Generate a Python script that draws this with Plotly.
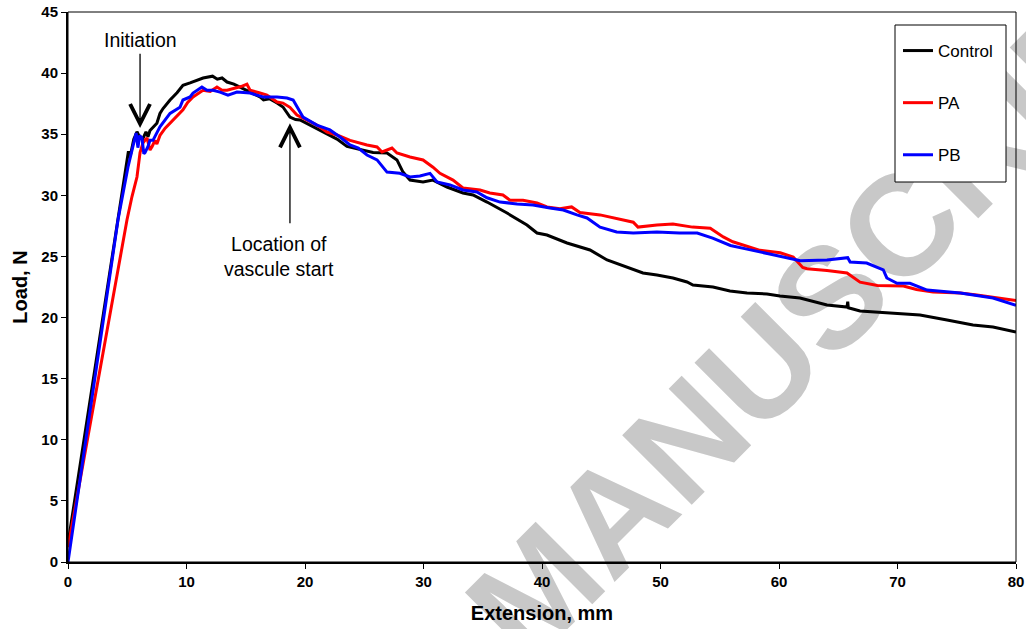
import plotly.graph_objects as go

# ---- Data ----
control_x = [0, 5.1, 5.25, 5.55, 5.82, 6.08, 6.3, 6.58, 6.75, 6.92, 7.5, 7.76, 8.02, 8.61, 9.2, 9.7,
             10.3, 10.8, 11.4, 12.2, 12.6, 13.0, 13.42, 14.0, 14.5, 15.36, 16.2, 16.5, 17.0, 17.64,
             18.14, 18.73, 19.2, 19.58, 20.42, 21.52, 22.7, 23.54, 24.5, 25.74, 26.92, 27.76, 28.27,
             28.86, 29.96, 30.8, 31.98, 33.33, 34.18, 35.36, 37.05, 38.73, 39.58, 40.42, 42.11, 44.05,
             45.49, 47.43, 48.52, 49.7, 51.05, 52.24, 52.74, 54.43, 55.86, 57.3, 58.99, 60.08, 61.77,
             64.05, 65.74, 65.8, 65.85, 66.84, 69.62, 71.9, 74.18, 76.37, 78.06, 80.0]
control_y = [1.5, 33.6, 33.2, 34.6, 35.2, 34.7, 34.6, 35.2, 34.8, 35.3, 35.9, 36.7, 37.1, 37.8, 38.4, 39.0,
             39.2, 39.4, 39.6, 39.75, 39.5, 39.6, 39.27, 39.1, 38.85, 38.45, 38.05, 37.8, 37.9, 37.55,
             37.23, 36.4, 36.2, 36.16, 35.75, 35.18, 34.6, 34.0, 33.8, 33.5, 33.46, 32.9, 31.9,
             31.25, 31.1, 31.25, 30.68, 30.19, 30.03, 29.45, 28.55, 27.57, 26.92, 26.75, 26.1, 25.53,
             24.71, 24.05, 23.65, 23.48, 23.24, 22.91, 22.66, 22.5, 22.17, 22.0, 21.93, 21.76, 21.6,
             21.03, 20.86, 21.3, 20.8, 20.54, 20.37, 20.21, 19.8, 19.39, 19.23, 18.82]

pa_x = [0, 4.98, 5.4, 5.82, 6.08, 6.33, 6.67, 6.92, 7.1, 7.34, 7.5, 7.76, 8.2, 8.61, 9.2, 9.7, 10.1,
        10.55, 11.39, 12.0, 12.57, 13.0, 13.42, 14.26, 14.6, 15.1, 15.36, 16.2, 16.79, 17.64, 18.14,
        18.73, 19.32, 20.17, 21.0, 21.86, 22.7, 23.8, 25.23, 26.08, 26.5, 27.34, 27.76, 28.86, 29.96,
        30.8, 31.39, 32.49, 33.33, 34.77, 35.6, 36.7, 37.3, 38.4, 39.58, 40.42, 41.5, 42.5, 43.2,
        44.9, 46.6, 47.7, 48.1, 49.7, 51.05, 52.7, 54.2, 55.3, 56.1, 57.3, 58.4, 60.1, 61.2, 62.0,
        62.36, 64.05, 65.74, 66.84, 68.3, 70.5, 71.6, 73.0, 75.3, 76.7, 78.06, 80.0]
pa_y = [1.2, 28.0, 29.9, 31.5, 33.5, 34.3, 34.7, 33.7, 34.0, 34.5, 34.2, 34.9, 35.5, 35.9, 36.5, 37.0, 37.6,
        38.05, 38.6, 38.5, 38.86, 38.6, 38.6, 38.78, 38.9, 39.1, 38.6, 38.37, 38.2, 37.64, 37.55,
        37.2, 36.57, 36.16, 35.75, 35.18, 34.94, 34.5, 34.12, 33.96, 33.55, 33.87, 33.46, 33.14, 32.89,
        32.3, 31.8, 31.25, 30.6, 30.44, 30.19, 30.03, 29.6, 29.6, 29.37, 29.05, 28.9, 29.05, 28.6,
        28.4, 28.0, 27.8, 27.4, 27.57, 27.65, 27.4, 27.3, 26.6, 26.2, 25.85, 25.5, 25.3, 24.95, 24.1,
        24.0, 23.85, 23.65, 22.9, 22.63, 22.58, 22.3, 22.1, 22.0, 21.85, 21.65, 21.4]

pb_x = [0, 4.22, 5.06, 5.4, 5.65, 5.75, 5.9, 6.05, 6.24, 6.4, 6.5, 6.75, 6.92, 7.17, 7.76, 8.35, 8.61,
        9.45, 9.7, 10.3, 10.55, 11.3, 11.73, 12.24, 12.83, 13.5, 14.26, 15.36, 16.46, 17.64, 18.48,
        19.0, 19.32, 19.83, 21.0, 22.1, 22.95, 23.8, 24.5, 25.23, 26.08, 26.92, 28.0, 28.86, 29.7,
        30.55, 31.14, 32.24, 33.33, 34.5, 35.36, 36.46, 37.9, 39.24, 40.67, 41.8, 42.95, 43.8, 44.9,
        46.3, 47.7, 49.7, 51.6, 53.1, 54.4, 55.9, 57.3, 59.0, 60.1, 61.8, 64.05, 65.8, 66.0, 67.4,
        68.8, 69.1, 69.96, 71.05, 72.5, 75.3, 78.06, 80.0]
pb_y = [0, 28.0, 32.3, 33.7, 34.9, 35.1, 33.9, 34.9, 34.7, 33.4, 33.5, 34.0, 34.5, 34.5, 35.6, 36.4, 36.7,
        37.2, 37.8, 38.05, 38.37, 38.86, 38.6, 38.6, 38.45, 38.2, 38.45, 38.37, 38.05, 38.05, 37.96,
        37.8, 37.23, 36.4, 35.75, 35.35, 34.77, 34.12, 33.87, 33.3, 32.9, 31.9, 31.8, 31.5, 31.58,
        31.8, 31.1, 30.85, 30.44, 30.27, 29.8, 29.45, 29.3, 29.2, 28.96, 28.8, 28.4, 28.15, 27.4,
        27.0, 26.92, 27.0, 26.92, 26.92, 26.5, 25.9, 25.6, 25.25, 25.0, 24.65, 24.7, 24.9, 24.55, 24.46,
        23.9, 23.24, 22.8, 22.8, 22.25, 22.0, 21.6, 21.0]

series_names = ["Control", "PA", "PB"]
series_colors = ["#000000", "#ff0000", "#0000ff"]
x_ticks = [0, 10, 20, 30, 40, 50, 60, 70, 80]
y_ticks = [0, 5, 10, 15, 20, 25, 30, 35, 40, 45]

FONT = "Liberation Sans, Arial, sans-serif"

fig = go.Figure()
for name, xs, ys, col in zip(series_names, [control_x, pa_x, pb_x], [control_y, pa_y, pb_y], series_colors):
    fig.add_trace(go.Scatter(x=xs, y=ys, mode="lines", name=name, legendgroup=name,
                             line=dict(color=col, width=3)))

fig.update_layout(
    width=1026, height=629,
    margin=dict(l=68, r=10, t=12, b=67),
    paper_bgcolor="white", plot_bgcolor="white",
    font=dict(family=FONT, color="black"),
    showlegend=True,
    legend=dict(x=0.8755, y=0.9618, xanchor="left", yanchor="top",
                bgcolor="rgba(0,0,0,0)", borderwidth=0,
                font=dict(size=17, family=FONT), traceorder="grouped", tracegroupgap=27),
)
fig.update_xaxes(range=[0, 80], tickvals=x_ticks, ticks="outside", ticklen=5, tickwidth=1,
                 tickcolor="black", showline=True, linecolor="black", linewidth=2,
                 showgrid=False, zeroline=False, automargin=False, ticklabeloverflow="allow",
                 tickfont=dict(size=15, family=FONT, weight="bold"),
                 title=dict(text="<b>Extension, mm</b>", font=dict(size=20), standoff=17))
fig.update_yaxes(range=[0, 45], tickvals=y_ticks, ticks="outside", ticklen=5, tickwidth=1,
                 tickcolor="black", showline=True, linecolor="black", linewidth=2,
                 showgrid=False, zeroline=False, automargin=False, ticklabeloverflow="allow",
                 tickfont=dict(size=15, family=FONT, weight="bold"),
                 title=dict(text="<b>Load, N</b>", font=dict(size=20), standoff=8))

# plot-area frame
fig.add_shape(type="rect", xref="paper", yref="paper", x0=0, y0=0, x1=1, y1=1,
              line=dict(color="black", width=1), layer="above")

# legend frame (white box, covers the watermark like in the reference)
fig.add_shape(type="rect", xref="paper", yref="paper",
              x0=(895 - 68) / 948, x1=(1006 - 68) / 948,
              y0=(562 - 182) / 550, y1=(562 - 25) / 550,
              line=dict(color="black", width=1), fillcolor="white", layer="above")

# watermark (annotation index 0; moved below the data layer after drawing)
fig.add_annotation(text="<b>ACCEPTED MANUSCRIPT</b>", x=0.4958, y=-0.049, xref="paper", yref="paper",
                   xanchor="center", yanchor="middle", showarrow=False, textangle=-45,
                   font=dict(size=143, family=FONT, color="rgb(200,200,200)"))

# Initiation arrow and label
fig.add_annotation(x=6.08, y=35.5, ax=6.08, ay=41.7, xref="x", yref="y", axref="x", ayref="y",
                   showarrow=True, arrowhead=5, arrowsize=3, arrowwidth=1.3, arrowcolor="black", text="")
fig.add_annotation(x=6.08, y=42.7, xref="x", yref="y", text="Initiation", showarrow=False,
                   font=dict(size=19.5, family=FONT))
# Vascule start arrow and label
fig.add_annotation(x=18.73, y=35.9, ax=18.73, ay=27.6, xref="x", yref="y", axref="x", ayref="y",
                   showarrow=True, arrowhead=5, arrowsize=3, arrowwidth=1.3, arrowcolor="black", text="")
fig.add_annotation(x=17.8, y=25.0, xref="x", yref="y", text="Location of<br>vascule start",
                   showarrow=False, align="center", font=dict(size=19.5, family=FONT))

post_js = """
document.body.style.margin = '0';
var gd = document.getElementById('{plot_id}');
var wm = gd.querySelector('g.annotation[data-index="0"]');
var layerBelow = gd.querySelector('svg.main-svg g.layer-below');
if (wm && layerBelow) {
    layerBelow.parentNode.insertBefore(wm, layerBelow.nextSibling);
}
"""

fig.write_html("out.html", post_script=post_js, config={"displayModeBar": False})
